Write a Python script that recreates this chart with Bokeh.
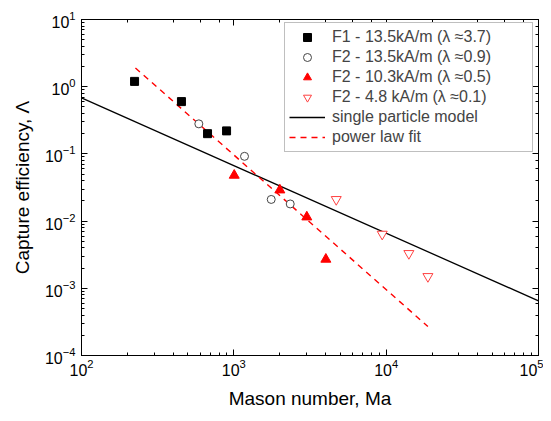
from bokeh.plotting import figure
from bokeh.models import LogAxis, Legend, LegendItem, Range1d
from bokeh.embed import file_html
from bokeh.resources import INLINE

# --- data ---
f1_x = [223, 453, 672, 896]
f1_y = [1.2, 0.60, 0.20, 0.22]

f2a_x = [589, 1175, 1760, 2345]
f2a_y = [0.28, 0.092, 0.021, 0.018]

f2b_x = [1006, 2005, 3013, 4018]
f2b_y = [0.048, 0.029, 0.0115, 0.0027]

f2c_x = [4702, 9420, 14090, 18790]
f2c_y = [0.021, 0.0064, 0.0033, 0.0015]

model_x = [100, 100000]
model_y = [0.68, 0.00065]

fit_x = [226, 18790]
fit_y = [1.9, 0.00027]

labels = ["F1 - 13.5kA/m (λ ≈3.7)", "F2 - 13.5kA/m (λ ≈0.9)",
          "F2 - 10.3kA/m (λ ≈0.5)", "F2 - 4.8 kA/m (λ ≈0.1)",
          "single particle model", "power law fit"]

FONT = "Liberation Sans"

p = figure(x_axis_type="log", y_axis_type="log",
           x_range=Range1d(1e2, 1e5), y_range=Range1d(1e-4, 1e1),
           frame_width=457, frame_height=336,
           min_border_left=81, min_border_right=5, min_border_top=19, min_border_bottom=60,
           output_backend="svg", toolbar_location=None,
           background_fill_color="white", border_fill_color="white")
p.xgrid.visible = False
p.ygrid.visible = False
p.outline_line_color = "black"
p.outline_line_width = 1

for ax in (p.xaxis[0], p.yaxis[0]):
    ax.major_tick_in = 6
    ax.major_tick_out = 0
    ax.minor_tick_in = 3
    ax.minor_tick_out = 0
    ax.axis_line_color = "black"
    ax.major_tick_line_color = "black"
    ax.minor_tick_line_color = "black"
    ax.major_label_text_font = FONT
    ax.major_label_text_font_size = "16px"
    ax.major_label_text_color = "black"
    ax.axis_label_text_font = FONT
    ax.axis_label_text_font_size = "19px"
    ax.axis_label_text_font_style = "normal"
    ax.axis_label_text_color = "black"

p.xaxis[0].axis_label = "Mason number, Ma"
p.yaxis[0].axis_label = "Capture efficiency, Λ"
p.xaxis[0].major_label_standoff = 3
p.xaxis[0].axis_label_standoff = 9
p.yaxis[0].major_label_standoff = 6
p.yaxis[0].axis_label_standoff = 9

for loc in ("above", "right"):
    ax = LogAxis(major_tick_in=6, major_tick_out=0, minor_tick_in=3, minor_tick_out=0,
                 major_label_text_font_size="1px", major_label_text_alpha=0,
                 major_label_standoff=0, axis_line_color="black")
    p.add_layout(ax, loc)

r_model = p.line(model_x, model_y, line_color="black", line_width=1.3)
r_fit = p.line(fit_x, fit_y, line_color="red", line_width=1.4, line_dash="6 5")

r1 = p.scatter(f1_x, f1_y, marker="square", size=8, fill_color="black", line_color="black")
r2 = p.scatter(f2a_x, f2a_y, marker="circle", size=8, fill_color="white",
               line_color="#444444", line_width=1)
r3 = p.scatter(f2b_x, f2b_y, marker="triangle", size=10, fill_color="red", line_color="red")
r4 = p.scatter(f2c_x, f2c_y, marker="inverted_triangle", size=10, fill_color="white",
               line_color="#ff4040", line_width=1)

legend = Legend(items=[LegendItem(label=labels[0], renderers=[r1]),
                       LegendItem(label=labels[1], renderers=[r2]),
                       LegendItem(label=labels[2], renderers=[r3]),
                       LegendItem(label=labels[3], renderers=[r4]),
                       LegendItem(label=labels[4], renderers=[r_model]),
                       LegendItem(label=labels[5], renderers=[r_fit])],
                location=(203, 203),
                label_text_font=FONT, label_text_font_size="16px",
                glyph_width=36, glyph_height=20, label_height=20, label_width=196,
                label_standoff=7, spacing=0, padding=4, margin=0,
                border_line_color="#808080", border_line_width=1,
                background_fill_color="white", background_fill_alpha=1)
p.add_layout(legend, "center")

open("out.html", "w").write(file_html(p, INLINE))
